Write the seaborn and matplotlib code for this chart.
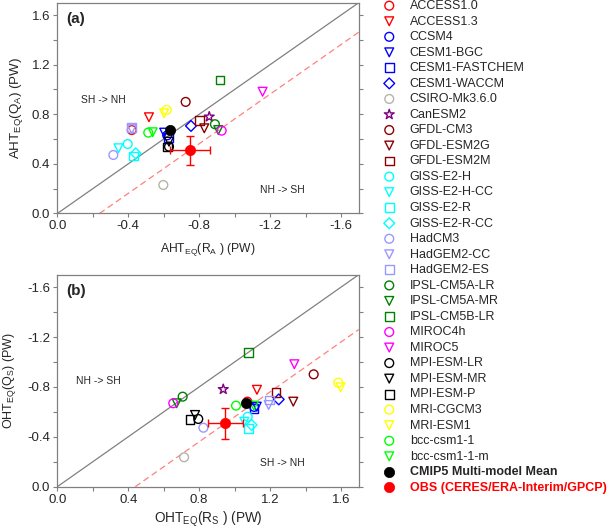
import numpy as np
import pandas as pd
import matplotlib
matplotlib.use("Agg")
import matplotlib.pyplot as plt
import seaborn as sns
from matplotlib.ticker import FixedLocator, FixedFormatter

sns.set_style("white")
plt.rcParams['font.family'] = ['Liberation Sans', 'DejaVu Sans']
plt.rcParams['axes.unicode_minus'] = False
plt.rcParams['mathtext.fontset'] = 'custom'
plt.rcParams['mathtext.rm'] = 'Liberation Sans'

models = ["ACCESS1.0", "ACCESS1.3", "CCSM4", "CESM1-BGC", "CESM1-FASTCHEM", "CESM1-WACCM",
          "CSIRO-Mk3.6.0", "CanESM2", "GFDL-CM3", "GFDL-ESM2G", "GFDL-ESM2M",
          "GISS-E2-H", "GISS-E2-H-CC", "GISS-E2-R", "GISS-E2-R-CC",
          "HadCM3", "HadGEM2-CC", "HadGEM2-ES", "IPSL-CM5A-LR", "IPSL-CM5A-MR", "IPSL-CM5B-LR",
          "MIROC4h", "MIROC5", "MPI-ESM-LR", "MPI-ESM-MR", "MPI-ESM-P",
          "MRI-CGCM3", "MRI-ESM1", "bcc-csm1-1", "bcc-csm1-1-m"]
markers = ["o", "v", "o", "v", "s", "D", "o", "*", "o", "v", "s",
           "o", "v", "s", "D", "o", "v", "s", "o", "v", "s",
           "o", "v", "o", "v", "s", "o", "v", "o", "v"]
colors = ["#FF0000", "#FF0000", "#0000FF", "#0000FF", "#0000FF", "#0000FF",
          "#B4B4A8", "#800080", "#8B0000", "#8B0000", "#8B0000",
          "#00FFFF", "#00FFFF", "#00FFFF", "#00FFFF",
          "#9999FF", "#9999FF", "#9999FF", "#008000", "#008000", "#008000",
          "#FF00FF", "#FF00FF", "#000000", "#000000", "#000000",
          "#FFFF00", "#FFFF00", "#00FF00", "#00FF00"]

# Panel (a): AHT_EQ(R_A) vs AHT_EQ(Q_A)
a_x = [-0.42, -0.517, -0.62, -0.603, -0.626, -0.754, -0.598, -0.857, -0.724, -0.829, -0.80,
       -0.397, -0.345, -0.429, -0.442, -0.316, -0.42, -0.418, -0.889, -0.908, -0.918,
       -0.927, -1.158, -0.63, -0.63, -0.623, -0.617, -0.602, -0.513, -0.538]
a_y = [0.673, 0.776, 0.63, 0.652, 0.611, 0.706, 0.23, 0.78, 0.90, 0.687, 0.748,
       0.56, 0.526, 0.464, 0.485, 0.472, 0.68, 0.692, 0.72, 0.673, 1.077,
       0.668, 0.982, 0.539, 0.579, 0.536, 0.835, 0.808, 0.652, 0.655]
# Panel (b): OHT_EQ(R_S) vs OHT_EQ(Q_S)
b_x = [1.072, 1.126, 1.11, 1.125, 1.11, 1.249, 0.715, 0.936, 1.446, 1.331, 1.234,
       1.074, 1.055, 1.077, 1.096, 0.824, 1.192, 1.196, 0.707, 0.673, 1.077,
       0.654, 1.337, 0.795, 0.777, 0.749, 1.585, 1.598, 1.008, 1.109]
b_y = [-0.682, -0.777, -0.64, -0.642, -0.629, -0.70, -0.236, -0.781, -0.901, -0.682, -0.754,
       -0.561, -0.521, -0.468, -0.495, -0.473, -0.655, -0.695, -0.722, -0.669, -1.078,
       -0.669, -0.982, -0.543, -0.575, -0.54, -0.834, -0.797, -0.65, -0.65]

mmm_a = (-0.636, 0.673)
mmm_b = (1.064, -0.674)
obs_a = (-0.748, 0.51)
obs_a_err = (0.113, 0.117)
obs_b = (0.948, -0.508)
obs_b_err = (0.10, 0.123)

df_a = pd.DataFrame({"model": models, "x": a_x, "y": a_y})
df_b = pd.DataFrame({"model": models, "x": b_x, "y": b_y})

fig = plt.figure(figsize=(6.09, 5.30), dpi=100)
ax_a = fig.add_axes([0.0941, 0.5972, 0.4949, 0.3977])
ax_b = fig.add_axes([0.0941, 0.0817, 0.4949, 0.4000])

GRAY = "#808080"


def draw(ax, df, mmm, obs, obs_err):
    for m, mk, c in zip(models, markers, colors):
        sub = df[df["model"] == m]
        s = 40 if mk != "*" else 55
        if mk == "D":
            s = 30
        sns.scatterplot(data=sub, x="x", y="y", marker=mk, s=s, facecolor="none",
                        edgecolor=c, linewidth=1.0, ax=ax, label=m, legend=False, zorder=3)
    sns.scatterplot(x=[mmm[0]], y=[mmm[1]], marker="o", s=55, color="black",
                    edgecolor="black", linewidth=0.5, ax=ax, label="CMIP5 Multi-model Mean",
                    legend=False, zorder=4)
    ax.errorbar([obs[0]], [obs[1]], xerr=[obs_err[0]], yerr=[obs_err[1]], fmt="none",
                ecolor="#FF0000", elinewidth=1.0, capsize=3, capthick=1.0, zorder=4)
    sns.scatterplot(x=[obs[0]], y=[obs[1]], marker="o", s=55, color="#FF0000",
                    edgecolor="#FF0000", linewidth=0.5, ax=ax,
                    label="OBS (CERES/ERA-Interim/GPCP)", legend=False, zorder=5)
    ax.axline((0, 0), slope=-1, color=GRAY, lw=0.9, zorder=1)
    ax.axline(obs, slope=-1, color="#FF8080", lw=0.9, ls=(0, (5, 3)), zorder=1)
    for sp in ax.spines.values():
        sp.set_color(GRAY)
        sp.set_linewidth(0.9)
    ax.tick_params(which="both", direction="out", length=3, width=0.8, color=GRAY,
                   left=True, bottom=True, right=True, top=False, labelsize=9.5, pad=2)
    ax.set_xlabel("")
    ax.set_ylabel("")


draw(ax_a, df_a, mmm_a, obs_a, obs_a_err)
draw(ax_b, df_b, mmm_b, obs_b, obs_b_err)

# Panel a axes
ax_a.set_xlim(0, -1.7)
ax_a.set_ylim(0, 1.7)
ax_a.xaxis.set_major_locator(FixedLocator([0, -0.4, -0.8, -1.2, -1.6]))
ax_a.xaxis.set_major_formatter(FixedFormatter(["0.0", "-0.4", "-0.8", "-1.2", "-1.6"]))
ax_a.xaxis.set_minor_locator(FixedLocator([-0.2, -0.6, -1.0, -1.4]))
ax_a.yaxis.set_major_locator(FixedLocator([0, 0.4, 0.8, 1.2, 1.6]))
ax_a.yaxis.set_major_formatter(FixedFormatter(["0.0", "0.4", "0.8", "1.2", "1.6"]))
ax_a.yaxis.set_minor_locator(FixedLocator([0.2, 0.6, 1.0, 1.4]))
ax_a.set_xlabel(r"AHT$_{\rm EQ}$(R$_{\rm A}$ ) (PW)", fontsize=8.7, labelpad=6)
ax_a.set_ylabel(r"AHT$_{\rm EQ}$(Q$_{\rm A}$) (PW)", fontsize=9.6, labelpad=5)
ax_a.text(0.03, 0.955, "(a)", transform=ax_a.transAxes, fontsize=11, fontweight="bold",
          va="top", ha="left")
ax_a.text(-0.258, 0.915, "SH -> NH", fontsize=7.5, ha="center", va="center")
ax_a.text(-1.27, 0.19, "NH -> SH", fontsize=7.5, ha="center", va="center")

# Panel b axes
ax_b.set_xlim(0, 1.7)
ax_b.set_ylim(0, -1.7)
ax_b.xaxis.set_major_locator(FixedLocator([0, 0.4, 0.8, 1.2, 1.6]))
ax_b.xaxis.set_major_formatter(FixedFormatter(["0.0", "0.4", "0.8", "1.2", "1.6"]))
ax_b.xaxis.set_minor_locator(FixedLocator([0.2, 0.6, 1.0, 1.4]))
ax_b.yaxis.set_major_locator(FixedLocator([0, -0.4, -0.8, -1.2, -1.6]))
ax_b.yaxis.set_major_formatter(FixedFormatter(["0.0", "-0.4", "-0.8", "-1.2", "-1.6"]))
ax_b.yaxis.set_minor_locator(FixedLocator([-0.2, -0.6, -1.0, -1.4]))
ax_b.set_xlabel(r"OHT$_{\rm EQ}$(R$_{\rm S}$ ) (PW)", fontsize=9.8, labelpad=3)
ax_b.set_ylabel(r"OHT$_{\rm EQ}$(Q$_{\rm S}$) (PW)", fontsize=9.0, labelpad=7)
ax_b.text(0.03, 0.955, "(b)", transform=ax_b.transAxes, fontsize=11, fontweight="bold",
          va="top", ha="left")
ax_b.text(0.231, -0.85, "NH -> SH", fontsize=7.5, ha="center", va="center")
ax_b.text(1.27, -0.188, "SH -> NH", fontsize=7.5, ha="center", va="center")

handles, labels = ax_a.get_legend_handles_labels()
leg = fig.legend(handles, labels, loc="upper left", bbox_to_anchor=(383 / 609, 1.0),
                 frameon=False, fontsize=9.0, labelspacing=0.283, handlelength=1.0,
                 handletextpad=1.15, borderpad=0, borderaxespad=0, markerscale=1.0)
for t in leg.get_texts():
    if t.get_text() == "CMIP5 Multi-model Mean":
        t.set_fontweight("bold")
    if t.get_text().startswith("OBS"):
        t.set_fontweight("bold")
        t.set_color("#FF0000")

fig.savefig("out.png", dpi=100)
